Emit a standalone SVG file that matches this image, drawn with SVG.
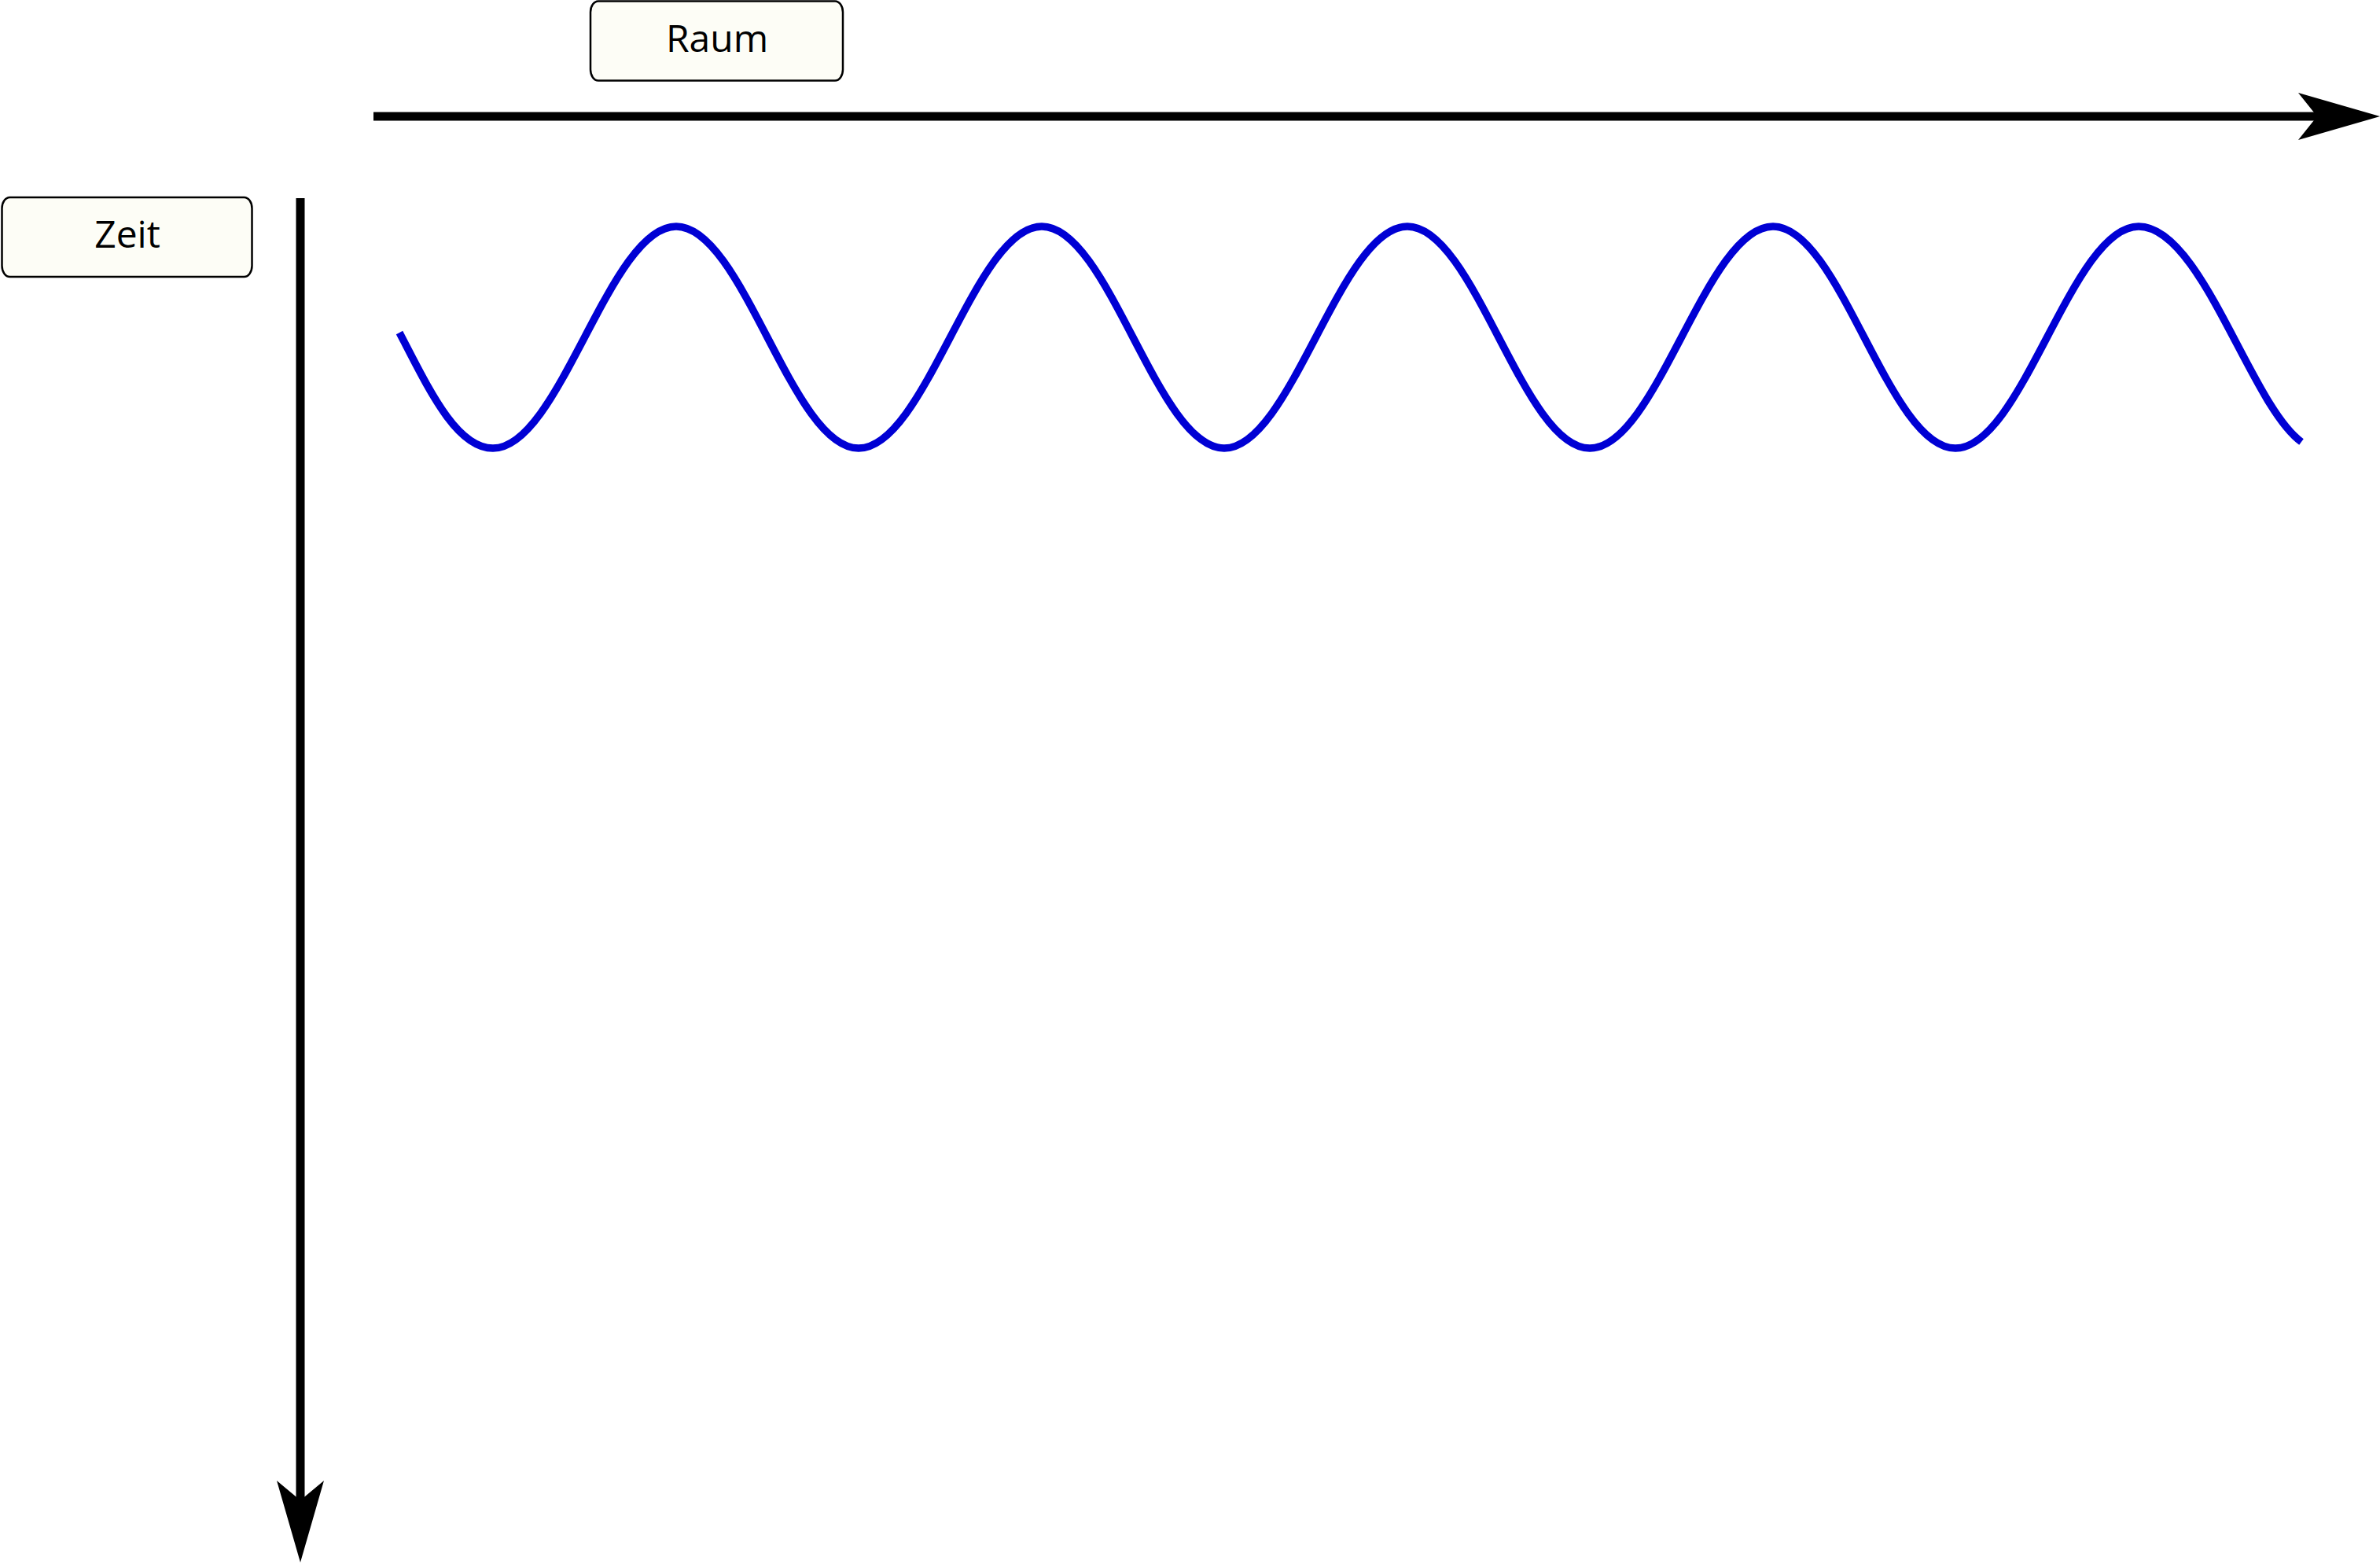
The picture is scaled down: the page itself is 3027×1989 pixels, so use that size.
<svg xmlns="http://www.w3.org/2000/svg" width="3027" height="1989" viewBox="0 0 3027 1989">
<style>
.box{fill:#fdfdf6;stroke:#000;stroke-width:2.5}
.lbl{font-family:"Open Sans","Noto Sans",sans-serif;font-size:48px;fill:#000;text-anchor:middle}
.axis{stroke:#000;stroke-width:11;fill:none}
.head{fill:#000}
.wave{fill:none;stroke:#0000d4;stroke-width:9.5}
</style>
<rect width="3027" height="1989" fill="#fff"/>
<g id="raum">
<rect class="box" x="751" y="1.5" width="321" height="101" rx="10" ry="14"/>
<text class="lbl" x="912" y="66">Raum</text>
</g>
<g id="zeit">
<rect class="box" x="2.5" y="251" width="318" height="101" rx="10" ry="14"/>
<text class="lbl" x="162" y="315">Zeit</text>
</g>
<g id="connectors">
<line class="axis" x1="475" y1="148" x2="2950" y2="148"/>
<polygon class="head" points="3027,148 2923,118 2947,148 2923,178"/>
<line class="axis" x1="382" y1="252" x2="382" y2="1910"/>
<polygon class="head" points="382,1987 352,1883 382,1908 412,1883"/>
</g>
<g id="wave">
<path class="wave" d="M508,423 C545,494 580,570 627,570 C712,570 775,288 860,288 C945,288 1007,570 1092,570 C1177,570 1240,288 1325,288 C1410,288 1472,570 1557,570 C1642,570 1705,288 1790,288 C1875,288 1937,570 2022,570 C2107,570 2170,288 2255,288 C2340,288 2402,570 2487,570 C2572,570 2635,288 2720,288 C2800,288 2862,515 2927,562"/>
</g>
</svg>
